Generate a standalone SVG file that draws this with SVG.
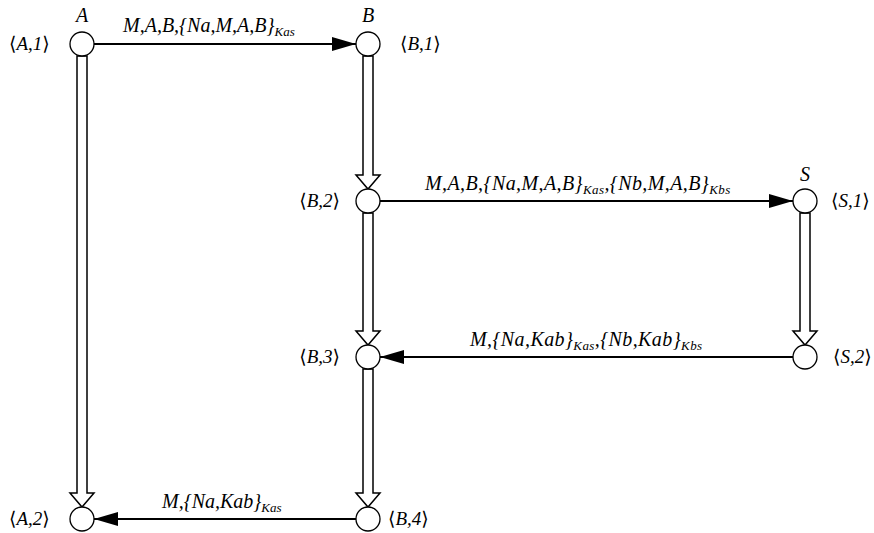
<svg xmlns="http://www.w3.org/2000/svg" width="874" height="533" viewBox="0 0 874 533">
  <defs>
    <marker id="solid" viewBox="0 0 24 14" refX="24" refY="7" markerWidth="24" markerHeight="14" markerUnits="userSpaceOnUse" orient="auto">
      <path d="M0,0 L24,7 L0,14 Z" fill="#000"/>
    </marker>
  </defs>
  <style>
    text { font-family: "Liberation Serif", "DejaVu Serif", serif; font-style: italic; font-size: 20px; fill: #000; }
    .st { font-style: normal; }
    .sub { font-size: 13px; }
    .wide { letter-spacing: 0.4px; }
    .state { font-size: 19px; }
    .node circle { fill: #fff; stroke: #000; stroke-width: 1.3; }
    .msg { stroke: #000; stroke-width: 2; fill: none; marker-end: url(#solid); }
    .step { fill: #fff; stroke: #000; stroke-width: 1.5; stroke-linejoin: miter; }
  </style>
  <rect width="874" height="533" fill="#fff"/>

  <!-- state transitions (hollow arrows) and messages -->
  <g id="connectors">
    <path class="step" d="M77,56 L77,493 L70,493 L82,507 L94,493 L87,493 L87,56 Z"/>
    <path class="step" d="M363,56 L363,175 L356,175 L368,189 L380,175 L373,175 L373,56 Z"/>
    <path class="step" d="M363,213 L363,331 L356,331 L368,345 L380,331 L373,331 L373,213 Z"/>
    <path class="step" d="M363,369 L363,493 L356,493 L368,507 L380,493 L373,493 L373,369 Z"/>
    <path class="step" d="M800,213 L800,331 L793,331 L805,345 L817,331 L810,331 L810,213 Z"/>

    <line class="msg" x1="94" y1="44" x2="356" y2="44"/>
    <line class="msg" x1="380" y1="201" x2="793" y2="201"/>
    <line class="msg" x1="793" y1="357" x2="380" y2="357"/>
    <line class="msg" x1="356" y1="519" x2="94" y2="519"/>

    <text x="123" y="32">M,A,B,{Na,M,A,B}<tspan class="sub" dy="4">Kas</tspan></text>
    <text class="wide" x="425" y="190">M,A,B,{Na,M,A,B}<tspan class="sub" dy="4">Kas</tspan><tspan dy="-4">,{Nb,M,A,B}</tspan><tspan class="sub" dy="4">Kbs</tspan></text>
    <text class="wide" x="470" y="346">M,{Na,Kab}<tspan class="sub" dy="4">Kas</tspan><tspan dy="-4">,{Nb,Kab}</tspan><tspan class="sub" dy="4">Kbs</tspan></text>
    <text x="162" y="508">M,{Na,Kab}<tspan class="sub" dy="4">Kas</tspan></text>
  </g>

  <g id="A1" class="node">
    <circle cx="82" cy="44" r="12"/>
    <text x="82" y="22" text-anchor="middle">A</text>
    <text class="state" x="9" y="50"><tspan class="st">⟨</tspan>A,1<tspan class="st">⟩</tspan></text>
  </g>
  <g id="B1" class="node">
    <circle cx="368" cy="44" r="12"/>
    <text x="368" y="22" text-anchor="middle">B</text>
    <text class="state" x="400" y="50"><tspan class="st">⟨</tspan>B,1<tspan class="st">⟩</tspan></text>
  </g>
  <g id="B2" class="node">
    <circle cx="368" cy="201" r="12"/>
    <text class="state" x="340" y="207" text-anchor="end"><tspan class="st">⟨</tspan>B,2<tspan class="st">⟩</tspan></text>
  </g>
  <g id="S1" class="node">
    <circle cx="805" cy="201" r="12"/>
    <text x="805" y="181" text-anchor="middle">S</text>
    <text class="state" x="831" y="207"><tspan class="st">⟨</tspan>S,1<tspan class="st">⟩</tspan></text>
  </g>
  <g id="B3" class="node">
    <circle cx="368" cy="357" r="12"/>
    <text class="state" x="340" y="363" text-anchor="end"><tspan class="st">⟨</tspan>B,3<tspan class="st">⟩</tspan></text>
  </g>
  <g id="S2" class="node">
    <circle cx="805" cy="357" r="12"/>
    <text class="state" x="833" y="363"><tspan class="st">⟨</tspan>S,2<tspan class="st">⟩</tspan></text>
  </g>
  <g id="A2" class="node">
    <circle cx="82" cy="519" r="12"/>
    <text class="state" x="9" y="525"><tspan class="st">⟨</tspan>A,2<tspan class="st">⟩</tspan></text>
  </g>
  <g id="B4" class="node">
    <circle cx="368" cy="519" r="12"/>
    <text class="state" x="388" y="525"><tspan class="st">⟨</tspan>B,4<tspan class="st">⟩</tspan></text>
  </g>
</svg>
